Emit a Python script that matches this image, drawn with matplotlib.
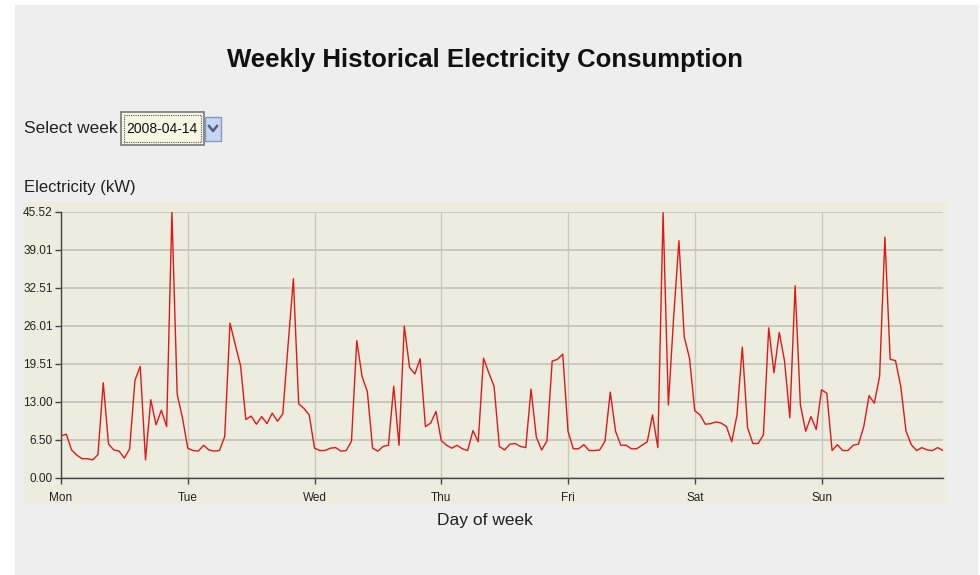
import matplotlib
matplotlib.use('Agg')
import matplotlib.pyplot as plt
from matplotlib.patches import Rectangle
import numpy as np

# hourly readings (kW) for the week starting 2008-04-14
week = '2008-04-14'
days = ['Mon', 'Tue', 'Wed', 'Thu', 'Fri', 'Sat', 'Sun']
mon = [7.2, 7.5, 4.8, 3.9, 3.3, 3.3, 3.1, 4.0, 16.3, 5.8, 4.8, 4.6,
       3.4, 5.0, 16.7, 19.1, 3.1, 13.4, 9.1, 11.6, 8.8, 45.516, 14.3, 10.3]
tue = [5.1, 4.7, 4.6, 5.6, 4.8, 4.6, 4.7, 7.1, 26.5, 22.8, 19.2, 10.0,
       10.6, 9.2, 10.5, 9.3, 11.1, 9.7, 11.0, 22.8, 34.1, 12.7, 11.9, 10.8]
wed = [5.1, 4.7, 4.7, 5.1, 5.2, 4.6, 4.7, 6.3, 23.5, 17.4, 14.8, 5.1,
       4.6, 5.4, 5.6, 15.7, 5.6, 26.0, 18.9, 17.8, 20.4, 8.8, 9.4, 11.4]
thu = [6.4, 5.6, 5.1, 5.6, 5.0, 4.7, 8.1, 6.2, 20.5, 18.0, 15.7, 5.4,
       4.8, 5.8, 5.9, 5.4, 5.2, 15.2, 7.0, 4.8, 6.3, 20.0, 20.3, 21.2]
fri = [8.0, 5.0, 5.0, 5.7, 4.7, 4.7, 4.8, 6.3, 14.7, 8.0, 5.6, 5.6,
       5.0, 5.0, 5.6, 6.2, 10.8, 5.2, 45.4, 12.5, 27.5, 40.6, 24.2, 20.5]
sat = [11.5, 10.8, 9.2, 9.3, 9.6, 9.4, 8.8, 6.2, 10.8, 22.4, 8.6, 5.9,
       5.9, 7.4, 25.7, 18.0, 24.9, 20.0, 10.3, 32.9, 12.5, 8.0, 10.5, 8.3]
sun = [15.1, 14.5, 4.7, 5.7, 4.7, 4.7, 5.6, 5.8, 8.8, 14.1, 12.8, 17.4,
       41.2, 20.3, 20.1, 15.7, 8.0, 5.7, 4.7, 5.2, 4.8, 4.7, 5.2, 4.7]

W, H = 980, 575
plt.rcParams['font.family'] = ['Liberation Sans', 'DejaVu Sans']


def fx(x):
    return x / W


def fy(y):
    return 1 - y / H


def main():
    load = np.array(mon + tue + wed + thu + fri + sat + sun)
    hours = np.arange(len(load))
    top = load.max()

    fig = plt.figure(figsize=(W / 100, H / 100), dpi=100, facecolor='white')

    # page panel and chart background
    fig.patches.append(Rectangle((fx(15), fy(575)), fx(963), 570 / H,
                                 transform=fig.transFigure, facecolor='#eeeeee',
                                 edgecolor='none', zorder=0))
    fig.patches.append(Rectangle((fx(24), fy(505)), fx(923), 303 / H,
                                 transform=fig.transFigure, facecolor='#ededdf',
                                 edgecolor='none', zorder=1))

    fig.text(fx(485), fy(60), 'Weekly Historical Electricity Consumption',
             ha='center', va='center', fontsize=18.5, fontweight='bold', color='#111111')

    # week selector
    fig.text(fx(24), fy(129), 'Select week', ha='left', va='center',
             fontsize=12.5, color='#222222')
    fig.patches.append(Rectangle((fx(121), fy(145)), fx(83), 33 / H,
                                 transform=fig.transFigure, facecolor='#f7f7e4',
                                 edgecolor='#777777', lw=1.2, zorder=2))
    fig.patches.append(Rectangle((fx(124), fy(142)), fx(77), 27 / H,
                                 transform=fig.transFigure, facecolor='none',
                                 edgecolor='#555555', lw=0.8, ls=(0, (1, 1)), zorder=3))
    fig.text(fx(162), fy(129), week, ha='center', va='center',
             fontsize=10, color='#111111', zorder=4)
    fig.patches.append(Rectangle((fx(205), fy(141)), fx(16), 24 / H,
                                 transform=fig.transFigure, facecolor='#c6d6f4',
                                 edgecolor='#7f9db9', lw=1, zorder=2))
    fig.lines.append(plt.Line2D([fx(209), fx(213), fx(217)], [fy(126), fy(131), fy(126)],
                                transform=fig.transFigure, color='#4d6185', lw=1.8, zorder=3))

    fig.text(fx(24), fy(188), 'Electricity (kW)', ha='left', va='center',
             fontsize=12, color='#222222')

    ax = fig.add_axes([fx(61), fy(478), fx(882), 266 / H], zorder=5)
    ax.set_facecolor('#ededdf')
    ax.plot(hours, load, color='#e01818', lw=1.0, zorder=3)

    ax.set_xlim(0, len(load) - 1)
    ax.set_ylim(0, top)
    yt = np.linspace(0, top, 8)
    ax.set_yticks(yt)
    ax.set_yticklabels(['%.2f' % v for v in yt])
    ax.set_xticks(np.arange(len(days)) * 24)
    ax.set_xticklabels(days)

    ax.grid(axis='y', color='#c6c6bc', lw=1.3)
    ax.grid(axis='x', color='#c8c8c0', lw=1.0)
    ax.set_axisbelow(True)

    for side in ['top', 'right']:
        ax.spines[side].set_visible(False)
    for side in ['left', 'bottom']:
        ax.spines[side].set_color('#444444')
        ax.spines[side].set_linewidth(1.0)
    ax.tick_params(direction='out', length=4, width=1, color='#444444',
                   labelsize=8.5, labelcolor='#222222', pad=2)
    ax.tick_params(axis='x', pad=6)

    fig.text(fx(485), fy(520), 'Day of week', ha='center', va='center',
             fontsize=12.5, color='#222222')

    fig.savefig('out.png', dpi=100, facecolor='white')


if __name__ == '__main__':
    main()
